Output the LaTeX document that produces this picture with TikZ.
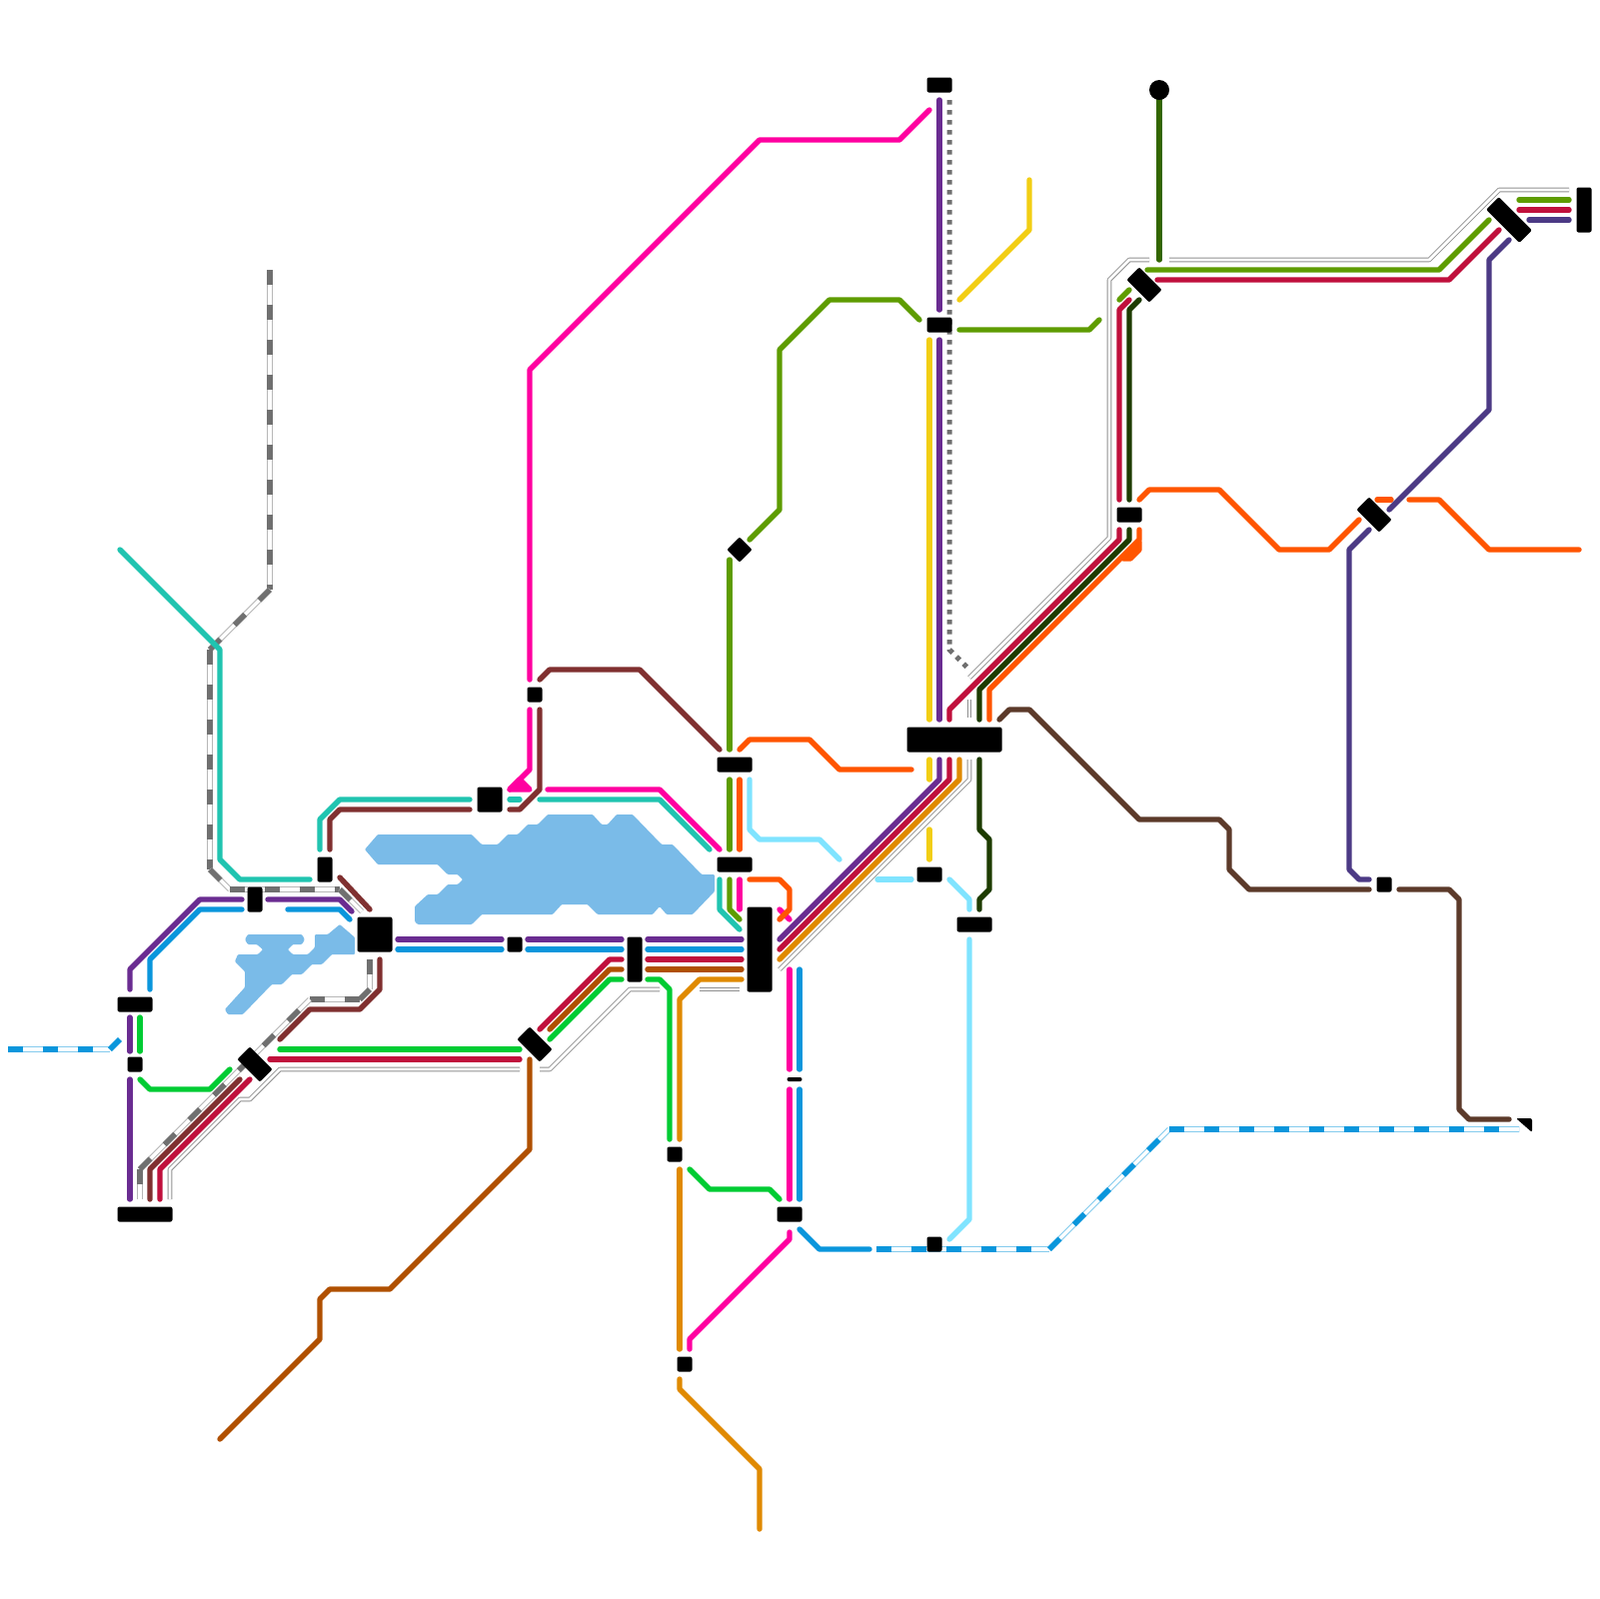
\documentclass[tikz,border=0pt]{standalone}
\usepackage{xcolor}
\definecolor{MagentaLine}{HTML}{FF00A0}
\definecolor{TealLine}{HTML}{20C4B0}
\definecolor{MaroonLine}{HTML}{803030}
\definecolor{PurpleLine}{HTML}{6A2C91}
\definecolor{BlueLine}{HTML}{0A96DC}
\definecolor{GreenLine}{HTML}{00CC33}
\definecolor{CrimsonLine}{HTML}{C0103C}
\definecolor{RustLine}{HTML}{B05000}
\definecolor{AmberLine}{HTML}{E08A00}
\definecolor{YellowLine}{HTML}{F2CE14}
\definecolor{OliveLine}{HTML}{5E9C00}
\definecolor{ForestLine}{HTML}{336600}
\definecolor{NightLine}{HTML}{1E3C00}
\definecolor{OrangeLine}{HTML}{FF5500}
\definecolor{SkyLine}{HTML}{80E4FF}
\definecolor{IndigoLine}{HTML}{4C3A85}
\definecolor{UmberLine}{HTML}{5C3A2A}
\definecolor{WaterBlue}{HTML}{7ABBE8}
\definecolor{RailGray}{HTML}{707070}
\definecolor{GhostGray}{HTML}{909090}
\tikzset{
  metro/.style={line width=.54mm, line cap=round, line join=round},
  railtrack/.style={draw=#1, line width=.54mm, line join=round, dash pattern=on 1.5mm off 2mm,
    preaction={draw=#1!50, solid, line width=.54mm}, preaction={draw=white, solid, line width=.34mm}},
  ghosttrack/.style={draw=GhostGray, line width=.46mm, line join=round,
    postaction={draw=white, line width=.28mm}},
  stn/.style 2 args={fill=black, rounded corners=.2mm, inner sep=0pt, minimum width=#1*.1mm, minimum height=#2*.1mm}
}
\begin{document}
\begin{tikzpicture}[x=.1mm, y=-.1mm]
  \useasboundingbox (0,0) rectangle (1600,1600);
  \fill[white] (0,0) rectangle (1600,1600);

  \fill[WaterBlue, rounded corners=.1mm] (378,835)--(472,835)--(482,845)--(498,845)--(508,835)--(518,835)--(528,825)--(538,825)--(548,815)--(593,815)--(602,825)--(608,825)--(617,815)--(633,815)--(662,845)--(673,845)--(702,875)--(715,875)--(715,892)--(693,915)--(667,915)--(660,907)--(653,915)--(598,915)--(588,905)--(562,905)--(553,915)--(482,915)--(472,925)--(418,925)--(415,922)--(415,907)--(428,895)--(438,895)--(448,885)--(458,885)--(463,880)--(458,875)--(448,875)--(438,865)--(378,865)--(365,850)--cycle;
  \fill[WaterBlue, rounded corners=.1mm] (248,935)--(302,935)--(305,940)--(302,945)--(293,945)--(288,950)--(293,955)--(308,955)--(315,948)--(315,935)--(328,935)--(340,925)--(355,938)--(355,955)--(332,955)--(322,965)--(312,965)--(302,975)--(292,975)--(282,985)--(272,985)--(243,1015)--(228,1015)--(225,1010)--(245,988)--(245,972)--(235,962)--(238,955)--(258,955)--(263,950)--(257,945)--(248,945)--(245,940)--cycle;

  \draw[ghosttrack] (170,1200)--(170,1170)--(240,1100)--(250,1100)--(280,1070)--(520,1070);
  \draw[ghosttrack] (540,1070)--(550,1070)--(630,990)--(660,990);
  \draw[ghosttrack] (700,990)--(740,990);
  \draw[ghosttrack] (780,970)--(970,780)--(970,760);
  \draw[ghosttrack] (970,718)--(970,700);
  \draw[ghosttrack] (970,678)--(1110,538)--(1110,280)--(1130,260)--(1150,260);
  \draw[ghosttrack] (1170,260)--(1430,260)--(1500,190)--(1570,190);

  \draw[railtrack=RailGray] (270,270)--(270,590);
  \draw[railtrack=RailGray] (270,590)--(210,650);
  \draw[railtrack=RailGray] (210,650)--(210,870);
  \draw[railtrack=RailGray] (210,870)--(230,890);
  \draw[railtrack=RailGray] (230,890)--(340,890);
  \draw[railtrack=RailGray] (340,890)--(362,912);
  \draw[railtrack=RailGray] (370,960)--(370,990);
  \draw[railtrack=RailGray] (360,1000)--(370,990);
  \draw[railtrack=RailGray] (310,1000)--(360,1000);
  \draw[railtrack=RailGray] (140,1170)--(310,1000);
  \draw[railtrack=RailGray] (140,1170)--(140,1200);
  \draw[railtrack=BlueLine] (8,1050)--(110,1050);
  \draw[railtrack=BlueLine] (110,1050)--(120,1040);
  \draw[railtrack=BlueLine] (877,1250)--(1050,1250);
  \draw[railtrack=BlueLine] (1050,1250)--(1170,1130);
  \draw[railtrack=BlueLine] (1170,1130)--(1520,1130);
  \draw[RailGray, line width=.5mm, dash pattern=on .45mm off .55mm] (950,100)--(950,650)--(970,670);

  \draw[metro, MagentaLine] (930,110)--(900,140)--(760,140)--(530,370)--(530,680);
  \draw[metro, MagentaLine] (530,710)--(530,770)--(510,790);
  \draw[metro, MagentaLine, fill=MagentaLine] (510,790)--(530,790)--(520,780)--cycle;
  \draw[metro, MagentaLine] (548,790)--(660,790)--(720,850);
  \draw[metro, MagentaLine] (740,880)--(740,910);
  \draw[metro, MagentaLine] (780,910)--(790,920);
  \draw[metro, MagentaLine] (790,970)--(790,1070);
  \draw[metro, MagentaLine] (790,1090)--(790,1200);
  \draw[metro, MagentaLine] (790,1233)--(790,1240)--(690,1340)--(690,1350);

  \draw[metro, TealLine] (120,550)--(220,650)--(220,860)--(240,880)--(310,880);
  \draw[metro, TealLine] (320,850)--(320,820)--(340,800)--(470,800);
  \draw[metro, TealLine] (510,800)--(520,800);
  \draw[metro, TealLine] (540,800)--(660,800)--(710,850);
  \draw[metro, TealLine] (720,880)--(720,910)--(740,930);

  \draw[metro, MaroonLine] (330,850)--(330,820)--(340,810)--(470,810);
  \draw[metro, MaroonLine] (510,810)--(520,810)--(540,790)--(540,710);
  \draw[metro, MaroonLine] (540,680)--(550,670)--(640,670)--(720,750);
  \draw[metro, MaroonLine] (340,878)--(370,910);
  \draw[metro, MaroonLine] (380,960)--(380,990)--(360,1010)--(310,1010)--(280,1040);
  \draw[metro, MaroonLine] (240,1080)--(150,1170)--(150,1200);

  \draw[metro, PurpleLine] (940,100)--(940,310);
  \draw[metro, PurpleLine] (940,340)--(940,720);
  \draw[metro, PurpleLine] (940,760)--(940,780)--(780,940);
  \draw[metro, PurpleLine] (648,940)--(742,940);
  \draw[metro, PurpleLine] (528,940)--(622,940);
  \draw[metro, PurpleLine] (398,940)--(502,940);
  \draw[metro, PurpleLine] (268,900)--(340,900)--(352,912);
  \draw[metro, PurpleLine] (242,900)--(200,900)--(130,970)--(130,990);
  \draw[metro, PurpleLine] (130,1018)--(130,1052);
  \draw[metro, PurpleLine] (130,1080)--(130,1200);

  \draw[metro, BlueLine] (150,990)--(150,960)--(200,910)--(242,910);
  \draw[metro, BlueLine] (288,910)--(340,910)--(350,920);
  \draw[metro, BlueLine] (398,950)--(502,950);
  \draw[metro, BlueLine] (528,950)--(622,950);
  \draw[metro, BlueLine] (648,950)--(742,950);
  \draw[metro, BlueLine] (800,970)--(800,1070);
  \draw[metro, BlueLine] (800,1090)--(800,1200);
  \draw[metro, BlueLine] (800,1230)--(820,1250)--(870,1250);

  \draw[metro, GreenLine] (140,1018)--(140,1052);
  \draw[metro, GreenLine] (140,1080)--(150,1090)--(210,1090)--(230,1070);
  \draw[metro, GreenLine] (280,1050)--(520,1050);
  \draw[metro, GreenLine] (550,1040)--(610,980)--(622,980);
  \draw[metro, GreenLine] (648,980)--(660,980)--(670,990)--(670,1140);
  \draw[metro, GreenLine] (690,1170)--(710,1190)--(770,1190)--(780,1200);

  \draw[metro, CrimsonLine] (270,1060)--(520,1060);
  \draw[metro, CrimsonLine] (250,1080)--(160,1170)--(160,1200);
  \draw[metro, CrimsonLine] (540,1030)--(610,960)--(622,960);
  \draw[metro, CrimsonLine] (648,960)--(742,960);
  \draw[metro, CrimsonLine] (780,950)--(950,780)--(950,760);
  \draw[metro, CrimsonLine] (950,720)--(950,710)--(1120,540)--(1120,530);
  \draw[metro, CrimsonLine] (1120,500)--(1120,310)--(1130,300);
  \draw[metro, CrimsonLine] (1158,280)--(1450,280)--(1500,230);
  \draw[metro, CrimsonLine] (1520,210)--(1570,210);

  \draw[metro, RustLine] (530,1060)--(530,1150)--(390,1290)--(330,1290)--(320,1300)--(320,1340)--(220,1440);
  \draw[metro, RustLine] (550,1030)--(610,970)--(622,970);
  \draw[metro, RustLine] (648,970)--(742,970);

  \draw[metro, AmberLine] (742,980)--(700,980)--(680,1000)--(680,1140);
  \draw[metro, AmberLine] (680,1170)--(680,1350);
  \draw[metro, AmberLine] (680,1380)--(680,1390)--(760,1470)--(760,1530);
  \draw[metro, AmberLine] (780,960)--(960,780)--(960,760);

  \draw[metro, YellowLine] (930,340)--(930,720);
  \draw[metro, YellowLine] (930,760)--(930,780);
  \draw[metro, YellowLine] (930,830)--(930,860);
  \draw[metro, YellowLine] (960,300)--(1030,230)--(1030,180);

  \draw[metro, OliveLine] (730,560)--(730,750);
  \draw[metro, OliveLine] (730,780)--(730,850);
  \draw[metro, OliveLine] (730,880)--(730,910)--(740,920);
  \draw[metro, OliveLine] (750,540)--(780,510)--(780,350)--(830,300)--(900,300)--(920,320);
  \draw[metro, OliveLine] (960,330)--(1090,330)--(1100,320);
  \draw[metro, OliveLine] (1120,300)--(1130,290);
  \draw[metro, OliveLine] (1148,270)--(1440,270)--(1490,220);
  \draw[metro, OliveLine] (1520,200)--(1570,200);

  \draw[metro, ForestLine] (1160,90)--(1160,260);
  \draw[metro, NightLine] (1140,300)--(1130,310)--(1130,500);
  \draw[metro, NightLine] (1130,530)--(1130,540)--(980,690)--(980,720);
  \draw[metro, NightLine] (980,760)--(980,830)--(990,840)--(990,890)--(980,900)--(980,910);

  \draw[metro, OrangeLine] (990,720)--(990,690)--(1140,540)--(1140,530);
  \draw[metro, OrangeLine, fill=OrangeLine] (1140,542)--(1140,550)--(1131,559)--(1124,559)--cycle;
  \draw[metro, OrangeLine] (1140,500)--(1150,490)--(1220,490)--(1280,550)--(1330,550)--(1360,520);
  \draw[metro, OrangeLine] (1378,500)--(1392,500);
  \draw[metro, OrangeLine] (1410,500)--(1440,500)--(1490,550)--(1580,550);
  \draw[metro, OrangeLine] (740,750)--(750,740)--(810,740)--(840,770)--(912,770);
  \draw[metro, OrangeLine] (740,780)--(740,850);
  \draw[metro, OrangeLine] (750,880)--(780,880)--(790,890)--(790,910)--(780,920);

  \draw[metro, SkyLine] (750,780)--(750,830)--(760,840)--(820,840)--(840,860);
  \draw[metro, SkyLine] (878,880)--(912,880);
  \draw[metro, SkyLine] (950,880)--(970,900)--(970,910);
  \draw[metro, SkyLine] (970,940)--(970,1220)--(950,1240);

  \draw[metro, IndigoLine] (1370,880)--(1360,880)--(1350,870)--(1350,550)--(1370,530);
  \draw[metro, IndigoLine] (1390,510)--(1490,410)--(1490,260)--(1510,240);
  \draw[metro, IndigoLine] (1530,220)--(1570,220);

  \draw[metro, UmberLine] (1000,720)--(1010,710)--(1030,710)--(1140,820)--(1220,820)--(1230,830)--(1230,870)--(1250,890)--(1370,890);
  \draw[metro, UmberLine] (1400,890)--(1450,890)--(1460,900)--(1460,1110)--(1470,1120)--(1510,1120);

  \node[stn={25}{15}] (stnSummit) at (940,85) {};
  \node[stn={25}{15}] (stnRidge) at (940,325) {};
  \node[stn={18}{18}, rotate=45] (stnVale) at (740,550) {};
  \node[stn={15}{15}] (stnLoch) at (535,695) {};
  \node[stn={25}{25}] (stnQuay) at (490,800) {};
  \node[stn={35}{15}] (stnNorth) at (735,765) {};
  \node[stn={35}{15}] (stnMid) at (735,865) {};
  \node[stn={95}{25}] (stnCentral) at (955,740) {};
  \node[stn={25}{15}] (stnEast) at (930,875) {};
  \node[stn={35}{15}] (stnBridge) at (975,925) {};
  \node[stn={25}{85}] (stnHub) at (760,950) {};
  \node[stn={15}{45}] (stnCross) at (635,960) {};
  \node[stn={15}{15}] (stnPier) at (515,945) {};
  \node[stn={35}{35}] (stnLake) at (375,935) {};
  \node[stn={15}{25}] (stnShore) at (325,870) {};
  \node[stn={15}{25}] (stnWest) at (255,900) {};
  \node[stn={35}{15}] (stnFork) at (135,1005) {};
  \node[stn={15}{15}] (stnGate) at (135,1065) {};
  \node[stn={55}{15}] (stnTerminus) at (145,1215) {};
  \node[stn={32}{18}, rotate=-45] (stnDelta) at (255,1065) {};
  \node[stn={32}{18}, rotate=-45] (stnMarsh) at (535,1045) {};
  \node[stn={15}{15}] (stnSouth) at (675,1155) {};
  \node[stn={15}{15}] (stnField) at (685,1365) {};
  \node[stn={25}{15}] (stnJunction) at (790,1215) {};
  \node[stn={15}{4}] (stnHalt) at (795,1080) {};
  \node[stn={15}{15}] (stnDock) at (935,1245) {};
  \node[stn={25}{15}] (stnMill) at (1130,515) {};
  \node[stn={32}{18}, rotate=-45] (stnHill) at (1145,285) {};
  \node[stn={47}{18}, rotate=-45] (stnPass) at (1510,220) {};
  \node[stn={15}{45}] (stnFar) at (1585,210) {};
  \node[stn={32}{18}, rotate=-45] (stnOak) at (1375,515) {};
  \node[stn={15}{15}] (stnElm) at (1385,885) {};
  \node[circle, fill=black, inner sep=0pt, minimum size=2mm] (stnHead) at (1160,90) {};
  \fill[black, rounded corners=.2mm] (1517,1119)--(1533,1119)--(1533,1133)--cycle;
\end{tikzpicture}
\end{document}
